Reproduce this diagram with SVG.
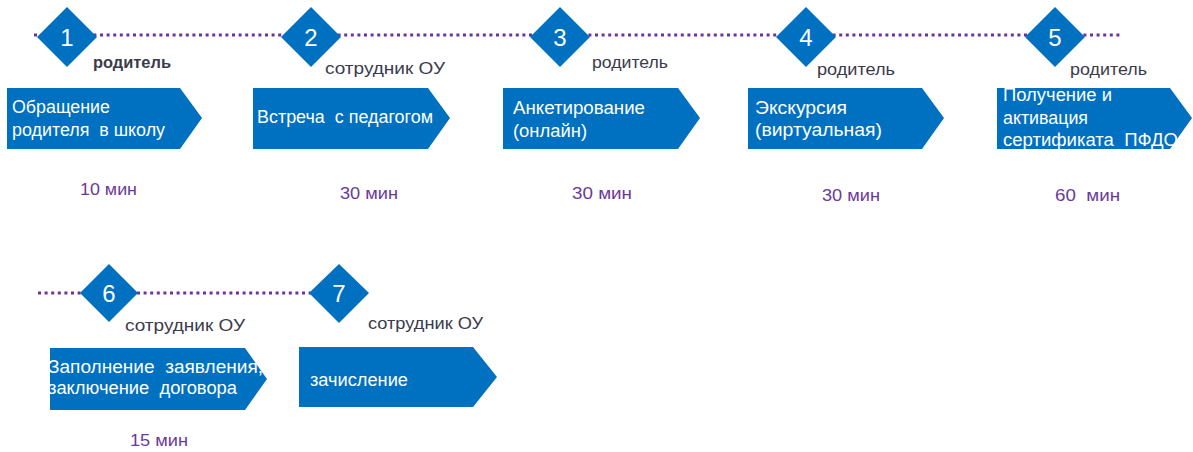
<svg xmlns="http://www.w3.org/2000/svg" width="1193" height="452" viewBox="0 0 1193 452">
<style>
.dot{stroke:#7030A0;stroke-width:3;stroke-dasharray:3 3.6;fill:none}
.dia{fill:#0070C0}
.num{font-family:"Liberation Sans",Arial,sans-serif;font-size:24px;fill:#ffffff;text-anchor:middle}
.box{fill:#0070C0}
.bt{font-family:"Liberation Sans",Arial,sans-serif;font-size:17.5px;fill:#ffffff}
.role{font-family:"Liberation Sans",Arial,sans-serif;font-size:16.5px;fill:#3b3b4b}
.dur{font-family:"Liberation Sans",Arial,sans-serif;font-size:16.5px;fill:#6a3a9a}
</style>
<g id="connectors">
<line class="dot" x1="34" y1="35" x2="1120" y2="35"/>
<line class="dot" x1="38" y1="293" x2="312" y2="293"/>
</g>
<g id="step1">
<polygon class="dia" points="67,7 97,37 67,67 37,37"/>
<text class="num" x="67" y="46">1</text>
<text class="role" x="93" y="68" font-weight="bold" textLength="78" lengthAdjust="spacingAndGlyphs">родитель</text>
<polygon class="box" points="7,88 180,88 202,118 180,149 7,149"/>
<text class="bt" x="12" y="113" textLength="98" lengthAdjust="spacingAndGlyphs">Обращение</text>
<text class="bt" x="12" y="136" xml:space="preserve" textLength="153" lengthAdjust="spacingAndGlyphs">родителя  в школу</text>
<text class="dur" x="80" y="195" textLength="57" lengthAdjust="spacingAndGlyphs">10 мин</text>
</g>
<g id="step2">
<polygon class="dia" points="311,7 341,37 311,67 281,37"/>
<text class="num" x="311" y="46">2</text>
<text class="role" x="325" y="74" textLength="120" lengthAdjust="spacingAndGlyphs">сотрудник ОУ</text>
<polygon class="box" points="253,88 428,88 450,118 428,149 253,149"/>
<text class="bt" x="257" y="123" xml:space="preserve" textLength="176" lengthAdjust="spacingAndGlyphs">Встреча  с педагогом</text>
<text class="dur" x="340" y="199" textLength="58" lengthAdjust="spacingAndGlyphs">30 мин</text>
</g>
<g id="step3">
<polygon class="dia" points="560,7 590,37 560,67 530,37"/>
<text class="num" x="560" y="46">3</text>
<text class="role" x="592" y="68" textLength="76" lengthAdjust="spacingAndGlyphs">родитель</text>
<polygon class="box" points="503,88 678,88 700,118 678,149 503,149"/>
<text class="bt" x="513" y="114" textLength="132" lengthAdjust="spacingAndGlyphs">Анкетирование</text>
<text class="bt" x="513" y="137" textLength="74" lengthAdjust="spacingAndGlyphs">(онлайн)</text>
<text class="dur" x="572" y="199" textLength="60" lengthAdjust="spacingAndGlyphs">30 мин</text>
</g>
<g id="step4">
<polygon class="dia" points="806,7 836,37 806,67 776,37"/>
<text class="num" x="806" y="46">4</text>
<text class="role" x="817" y="75" textLength="78" lengthAdjust="spacingAndGlyphs">родитель</text>
<polygon class="box" points="748,88 922,88 944,118 922,149 748,149"/>
<text class="bt" x="755" y="114" textLength="92" lengthAdjust="spacingAndGlyphs">Экскурсия</text>
<text class="bt" x="755" y="136" textLength="127" lengthAdjust="spacingAndGlyphs">(виртуальная)</text>
<text class="dur" x="822" y="201" textLength="58" lengthAdjust="spacingAndGlyphs">30 мин</text>
</g>
<g id="step5">
<polygon class="dia" points="1055,7 1085,37 1055,67 1025,37"/>
<text class="num" x="1055" y="46">5</text>
<text class="role" x="1070" y="75" textLength="77" lengthAdjust="spacingAndGlyphs">родитель</text>
<polygon class="box" points="997,88 1170,88 1192,118 1170,149 997,149"/>
<text class="bt" x="1003" y="101" textLength="109" lengthAdjust="spacingAndGlyphs">Получение и</text>
<text class="bt" x="1003" y="124" textLength="85" lengthAdjust="spacingAndGlyphs">активация</text>
<text class="bt" x="1003" y="146" xml:space="preserve" textLength="175" lengthAdjust="spacingAndGlyphs">сертификата  ПФДО</text>
<text class="dur" x="1055" y="201" xml:space="preserve" textLength="65" lengthAdjust="spacingAndGlyphs">60  мин</text>
</g>
<g id="step6">
<polygon class="dia" points="109,264 138,293 109,322 80,293"/>
<text class="num" x="109" y="302">6</text>
<text class="role" x="125" y="331" textLength="120" lengthAdjust="spacingAndGlyphs">сотрудник ОУ</text>
<polygon class="box" points="50,348 245,348 267,379 245,410 50,410"/>
<text class="bt" x="48" y="373" xml:space="preserve" textLength="215" lengthAdjust="spacingAndGlyphs">Заполнение  заявления,</text>
<text class="bt" x="48" y="394" xml:space="preserve" textLength="189" lengthAdjust="spacingAndGlyphs">заключение  договора</text>
<text class="dur" x="130" y="446" textLength="58" lengthAdjust="spacingAndGlyphs">15 мин</text>
</g>
<g id="step7">
<polygon class="dia" points="339,264 369,293 339,323 309,293"/>
<text class="num" x="339" y="302">7</text>
<text class="role" x="368" y="329" textLength="115" lengthAdjust="spacingAndGlyphs">сотрудник ОУ</text>
<polygon class="box" points="299,347 473,347 497,377 473,407 299,407"/>
<text class="bt" x="310" y="386" textLength="98" lengthAdjust="spacingAndGlyphs">зачисление</text>
</g>
</svg>
